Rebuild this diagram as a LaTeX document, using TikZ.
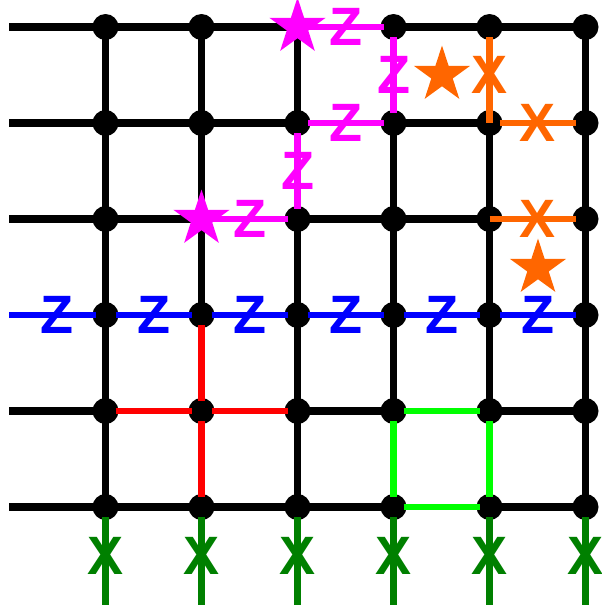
\documentclass[tikz,border=0pt]{standalone}
\usepackage{fontspec}
\setmainfont{Liberation Sans}
\usetikzlibrary{shapes.geometric}
\pgfdeclarelayer{bg}
\pgfsetlayers{bg,main}
\definecolor{cmag}{HTML}{FF00FF}
\definecolor{corg}{HTML}{FF6600}
\definecolor{cblu}{HTML}{0000FF}
\definecolor{cred}{HTML}{FF0000}
\definecolor{clim}{HTML}{00FF00}
\definecolor{cgrn}{HTML}{008000}
\begin{document}
\begin{tikzpicture}[x=1pt,y=-1pt,
  dot/.style={circle,fill=black,inner sep=0pt,minimum size=26pt},
  starnode/.style={star,star points=5,star point ratio=2.618,inner sep=0pt,minimum size=59pt,fill=#1,draw=none},
  gridline/.style={line width=7.5pt,black},
  cline/.style={line width=6.5pt,draw=#1,shorten <=10pt,shorten >=10pt},
  lbl/.style={font=\fontsize{54}{54}\selectfont\bfseries,inner sep=0pt,text=#1},
]
\useasboundingbox (0,0) rectangle (602,611);

% grid nodes
\foreach \i in {0,...,5}{
  \foreach \j in {0,...,5}{
    \pgfmathtruncatemacro\k{10*\i+\j}
    \ifnum\k=20
      \node[starnode=cmag] (n\i\j) at ({105.5+96*\i},{27+96*\j}) {};
    \else\ifnum\k=12
      \node[starnode=cmag] (n\i\j) at ({105.5+96*\i},{27+96*\j}) {};
    \else
      \node[dot] (n\i\j) at ({105.5+96*\i},{27+96*\j}) {};
    \fi\fi
  }
  \coordinate (b\i) at ({105.5+96*\i},605);
}
\foreach \j in {0,...,5}{
  \coordinate (l\j) at (9,{27+96*\j});
}

% free orange stars
\node[starnode=corg] (os1) at (442,75) {};
\node[starnode=corg] (os2) at (538,268) {};

% black grid segments
\begin{pgfonlayer}{bg}
\foreach \j in {0,1,2,4,5}{
  \draw[gridline] (l\j) -- (n0\j.center);
}
\foreach \i/\j in {0/0,1/0,3/0,4/0, 0/1,1/1,3/1, 0/2,2/2,3/2, 2/4,4/4, 0/5,1/5,2/5,4/5}{
  \pgfmathtruncatemacro\ii{\i+1}
  \draw[gridline] (n\i\j.center) -- (n\ii\j.center);
}
\foreach \i/\j in {0/0,0/1,0/2,0/3,0/4, 1/0,1/1,1/2, 2/0,2/2,2/3,2/4, 3/1,3/2,3/3, 4/1,4/2,4/3, 5/0,5/1,5/2,5/3,5/4}{
  \pgfmathtruncatemacro\jj{\j+1}
  \draw[gridline] (n\i\j.center) -- (n\i\jj.center);
}
\end{pgfonlayer}

% blue line
\draw[cline=cblu,shorten <=0pt] (l3) -- (n03.center) node[midway,lbl=cblu] {Z};
\foreach \i in {0,...,4}{
  \pgfmathtruncatemacro\ii{\i+1}
  \draw[cline=cblu] (n\i3.center) -- (n\ii3.center) node[midway,lbl=cblu] {Z};
}

% magenta path
\draw[cline=cmag] (n20.center) -- (n30.center) node[midway,lbl=cmag] {Z};
\draw[cline=cmag] (n30.center) -- (n31.center) node[midway,lbl=cmag] {Z};
\draw[cline=cmag] (n31.center) -- (n21.center) node[midway,lbl=cmag] {Z};
\draw[cline=cmag] (n21.center) -- (n22.center) node[midway,lbl=cmag] {Z};
\draw[cline=cmag] (n22.center) -- (n12.center) node[midway,lbl=cmag] {Z};

% orange
\draw[cline=corg,shorten >=0pt] (n40.center) -- (n41.center) node[midway,lbl=corg] {X};
\draw[cline=corg] (n41.center) -- (n51.center) node[midway,lbl=corg] {X};
\draw[cline=corg,shorten <=0pt] (n42.center) -- (n52.center) node[midway,lbl=corg] {X};

% red
\draw[cline=cred] (n13.center) -- (n14.center);
\draw[cline=cred] (n04.center) -- (n14.center);
\draw[cline=cred] (n14.center) -- (n24.center);
\draw[cline=cred] (n14.center) -- (n15.center);

% lime
\draw[cline=clim] (n34.center) -- (n44.center);
\draw[cline=clim] (n34.center) -- (n35.center);
\draw[cline=clim] (n44.center) -- (n45.center);
\draw[cline=clim] (n35.center) -- (n45.center);

% green stubs
\foreach \i in {0,...,5}{
  \draw[cline=cgrn,shorten >=0pt] (n\i5.center) -- (b\i) node[midway,lbl=cgrn] {X};
}
\end{tikzpicture}
\end{document}
